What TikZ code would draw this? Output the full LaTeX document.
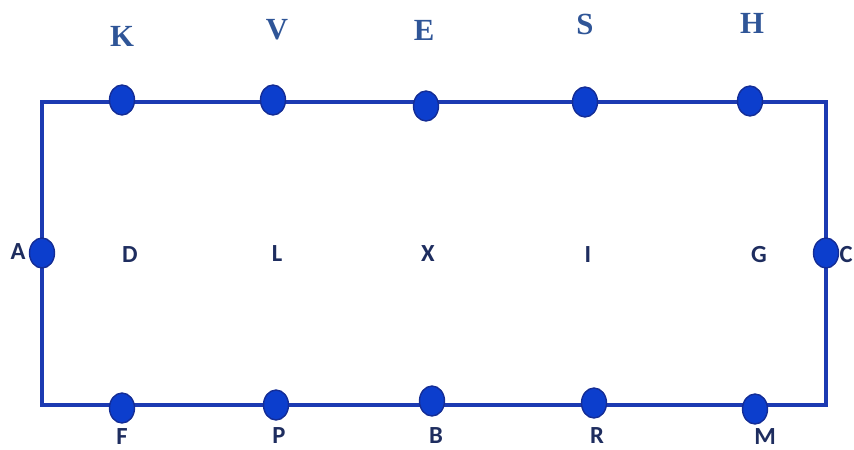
\documentclass[tikz,border=0pt]{standalone}
\usepackage{fontspec}
\setmainfont{Liberation Serif}
\newfontfamily\lblfont{Carlito}
\usetikzlibrary{shapes.geometric}
\definecolor{linea}{RGB}{28,58,178}
\definecolor{punto}{RGB}{12,62,205}
\definecolor{borde}{RGB}{20,45,150}
\definecolor{arriba}{RGB}{47,85,151}
\definecolor{texto}{RGB}{30,45,95}
\tikzset{
  dot/.style={ellipse, fill=punto, draw=borde, line width=0.8pt,
    minimum width=0.5cm, minimum height=0.6cm, inner sep=0pt},
  toplbl/.style={text=arriba, font=\fontsize{17.5}{20}\selectfont\bfseries},
  lbl/.style={text=texto, font=\lblfont\fontsize{14}{16}\selectfont\bfseries}
}
\begin{document}
\begin{tikzpicture}[x=0.02cm, y=-0.02cm]
    \useasboundingbox (0,0) rectangle (854,449);

    % esquinas del marco
    \coordinate (nw) at (42,102);
    \coordinate (ne) at (826,102);
    \coordinate (se) at (826,405);
    \coordinate (sw) at (42,405);

    % marco
    \draw[linea, line width=0.08cm, line join=miter] (nw) -- (ne) -- (se) -- (sw) -- cycle;

    % puntos de arriba
    \node[dot] (k) at (122,100) {};
    \node[dot] (v) at (273,100) {};
    \node[dot] (e) at (426,106) {};
    \node[dot] (s) at (585,102) {};
    \node[dot] (h) at (750,101) {};

    % puntos de abajo
    \node[dot] (f) at (122,408) {};
    \node[dot] (p) at (276,405) {};
    \node[dot] (b) at (432,401) {};
    \node[dot] (r) at (594,403) {};
    \node[dot] (m) at (755,409) {};

    % puntos de los lados
    \node[dot] (a) at (42,253) {};
    \node[dot] (c) at (826,253) {};

    % etiquetas de arriba
    \node[toplbl] (lk) at (122,36) {K};
    \node[toplbl] (lv) at (277,30) {V};
    \node[toplbl] (le) at (424,30) {E};
    \node[toplbl] (ls) at (585,24) {S};
    \node[toplbl] (lh) at (752,23) {H};

    % etiquetas del medio
    \node[lbl] (ld) at (130,255) {D};
    \node[lbl] (ll) at (277,254) {L};
    \node[lbl] (lx) at (428,254) {X};
    \node[lbl] (li) at (588,255) {I};
    \node[lbl] (lg) at (759,255) {G};

    % etiquetas de abajo
    \node[lbl] (lf) at (122,437) {F};
    \node[lbl] (lp) at (279,436) {P};
    \node[lbl] (lb) at (436,436) {B};
    \node[lbl] (lr) at (597,436) {R};
    \node[lbl] (lm) at (765,437) {M};

    % etiquetas de los lados
    \node[lbl] (la) at (18,252) {A};
    \node[lbl] (lc) at (846,255) {C};
\end{tikzpicture}
\end{document}
